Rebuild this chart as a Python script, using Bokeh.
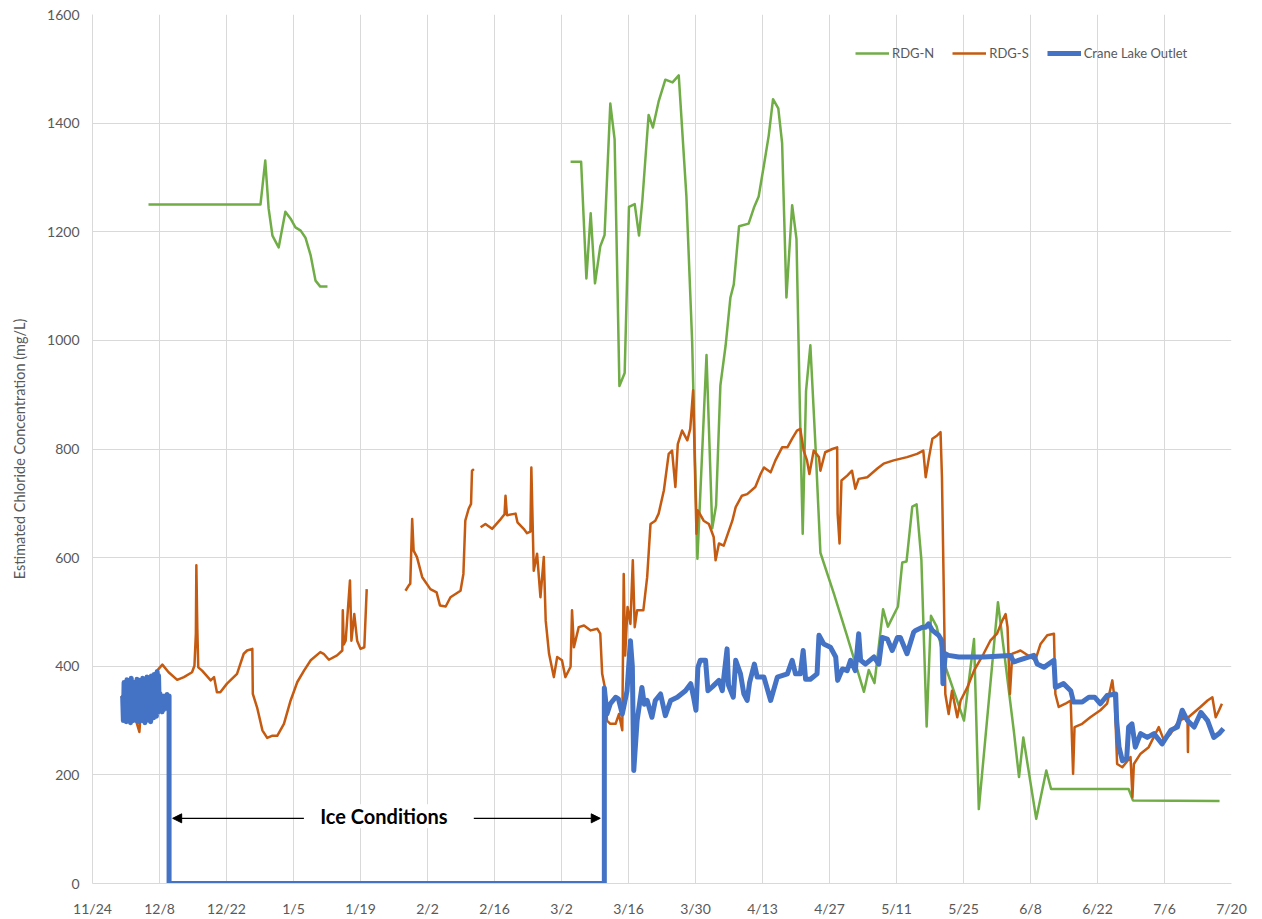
import numpy as np
from bokeh.plotting import figure
from bokeh.models import (FixedTicker, Legend, LegendItem, Arrow, NormalHead,
                          Label, Range1d)
from bokeh.embed import file_html
from bokeh.resources import INLINE

nan = np.nan

# x values are days since 11/24 (season 2020-11-24 .. 2021-07-20)
tick_days = list(range(0, 239, 14))
x_tick_labels = ["11/24", "12/8", "12/22", "1/5", "1/19", "2/2", "2/16", "3/2", "3/16",
                 "3/30", "4/13", "4/27", "5/11", "5/25", "6/8", "6/22", "7/6", "7/20"]
y_ticks = [0, 200, 400, 600, 800, 1000, 1200, 1400, 1600]

rdgn_day = [11.7, 35.1, 36.1, 36.8, 37.6, 38.9, 40.3, 41.4, 42.4, 43.5, 44.5, 45.6, 46.6, 47.6, 49.1,
            nan,
            99.9, 102.1, 103.2, 104.1, 105.0, 106.1, 107.0, 108.2, 109.1, 110.1, 111.2, 112.1,
            113.3, 114.2, 114.9, 116.2, 117.1, 118.3, 119.7, 121.2, 122.5, 124.1, 125.3, 126.4,
            128.3, 129.5, 130.3, 131.2, 132.3, 133.3, 134.0, 135.1, 137.1, 138.2, 139.2, 140.4,
            141.3, 142.2, 143.3, 144.1, 145.0, 146.2, 147.1, 147.8, 148.4, 149.1, 150.0, 151.1,
            152.1, 154.9, 157.7, 161.2, 162.2, 163.4, 165.2, 166.2, 168.3, 169.2, 170.1, 171.3,
            172.2, 173.2, 174.3, 175.2, 176.4, 178.2, 182.1, 184.2, 185.2, 189.2, 192.5, 193.6,
            194.5, 197.2, 199.3, 200.3, 216.5, 217.4, 235.5]
rdgn_val = [1250, 1250, 1331, 1243, 1193, 1171, 1237, 1224, 1208, 1202, 1189, 1156, 1110, 1099, 1099,
            nan,
            1329, 1329, 1114, 1234, 1105, 1173, 1194, 1436, 1370, 916, 940, 1246,
            1251, 1193, 1258, 1415, 1392, 1440, 1480, 1475, 1488, 1265, 998, 598,
            973, 654, 696, 917, 991, 1079, 1103, 1210, 1215, 1244, 1265, 1328,
            1377, 1444, 1427, 1363, 1079, 1249, 1187, 879, 644, 907, 991, 801,
            609, 534, 455, 353, 393, 369, 505, 473, 510, 591, 593, 694,
            698, 596, 289, 493, 473, 400, 300, 450, 137, 518, 282, 196,
            269, 119, 208, 174, 174, 153, 152]

rdgs_day = [5.9, 7.9, 9.8, 10.2, 12.1, 13.5, 14.6, 15.9, 17.7, 19.1, 20.8, 21.3, 21.6, 21.7, 21.9,
            22.1, 22.9, 24.7, 25.4, 26.0, 26.7, 28.1, 30.2, 31.6, 32.3, 33.4, 33.5, 34.4, 35.5,
            36.5, 37.5, 38.6, 40.0, 41.4, 42.8, 44.2, 45.6, 47.6, 48.3, 49.4, 51.1, 52.2, 52.3,
            52.5, 52.9, 53.8, 54.1, 54.7, 55.3, 56.0, 56.8, 57.3,
            nan,
            65.4, 66.1, 66.4, 66.8, 67.1, 67.8, 68.9, 70.6, 71.9, 72.6, 73.8, 74.8, 76.9, 77.5,
            77.9, 78.6, 79.1, 79.3, 79.7,
            nan,
            81.1, 82.1, 83.5, 85.3, 86.1, 86.3, 86.6, 88.4, 88.8, 90.1, 90.8, 91.5, 91.7, 92.2,
            92.9, 93.6, 94.3, 94.7, 95.4, 96.4, 97.1, 98.1, 98.8, 99.9, 100.2, 100.6, 101.6,
            102.7, 104.1, 105.5, 106.1, 106.5, 107.2, 107.5, 108.2, 109.3, 110.0, 110.7, 111.0,
            111.3, 111.8, 112.4, 112.9, 113.3, 113.8, 115.1, 115.9, 116.6, 117.6, 118.3, 119.4,
            120.4, 121.1, 121.8, 122.3, 123.2, 124.3, 124.9, 125.5, 126.2, 126.5, 127.7, 128.8,
            129.8, 130.2, 130.9, 131.9, 133.7, 134.4, 135.7, 136.8, 138.5, 139.6, 140.3, 141.7,
            142.7, 144.1, 145.2, 146.2, 147.2, 147.9, 148.6, 149.3, 149.8, 150.7, 151.8, 152.1,
            153.1, 154.6, 155.6, 155.7, 156.1, 156.5, 157.7, 158.7, 159.4, 160.1, 161.9, 164.0,
            165.3, 167.4, 170.2, 172.3, 173.6, 174.1, 174.8, 175.5, 176.5, 177.2, 177.5, 177.9,
            178.2, 178.9, 179.6, 180.7, 181.4, 182.8, 184.2, 186.2, 187.6, 189.0, 190.1, 190.8,
            191.2, 191.7, 192.2, 193.9, 196.0, 197.0, 198.1, 199.5, 200.9, 201.2, 201.9, 203.3,
            204.4, 204.9, 205.2, 206.8, 208.5, 210.6, 212.0, 213.1, 213.6, 214.1, 215.2, 216.9,
            217.3, 217.6, 219.0, 220.7, 222.8, 223.9, 225.3, 227.0, 228.8, 228.9, 229.0, 231.5,
            233.0, 234.0, 234.7, 235.4, 236.0]
rdgs_val = [345, 335, 279, 330, 340, 392, 403, 389, 375, 380, 389, 401, 460, 586, 470,
            398, 392, 374, 380, 352, 352, 368, 386, 423, 429, 432, 349, 324, 282,
            268, 272, 272, 294, 337, 371, 392, 411, 426, 423, 412, 420, 429, 503,
            440, 447, 558, 447, 496, 447, 432, 435, 542,
            nan,
            539, 549, 552, 671, 613, 601, 564, 542, 536, 512, 510, 527, 539, 570,
            668, 690, 699, 760, 763,
            nan,
            656, 662, 653, 671, 680, 714, 678, 681, 665, 653, 645, 648, 766, 576,
            607, 527, 601, 484, 423, 380, 417, 411, 380, 399, 503, 435, 472,
            475, 466, 469, 460, 386, 355, 300, 294, 294, 312, 282, 570,
            420, 509, 478, 595, 472, 503, 503, 564, 662, 668, 681, 724,
            791, 797, 730, 809, 834, 816, 837, 908, 644, 687, 668, 662,
            638, 595, 626, 622, 668, 693, 714, 717, 730, 754, 766, 757,
            779, 803, 803, 819, 834, 837, 797, 779, 754, 797, 785, 760,
            794, 800, 803, 681, 626, 742, 751, 760, 727, 745, 748, 764,
            773, 779, 785, 791, 797, 748, 785, 819, 825, 831, 748, 527,
            349, 312, 355, 306, 337, 361, 392, 423, 447, 460, 484, 496,
            472, 349, 423, 429, 417, 411, 441, 457, 460, 349, 325, 331,
            337, 202, 288, 294, 306, 319, 331, 374, 337, 220, 214, 233,
            159, 220, 239, 251, 288, 263, 276, 300, 306, 242, 306, 325,
            337, 343, 306, 319, 331]

crane_day = [6.30, 6.45, 6.60, 6.75, 6.90, 7.05, 7.20, 7.35, 7.50, 7.65, 7.80, 7.95, 8.10, 8.25,
             8.40, 8.55, 8.70, 8.85, 9.00, 9.15, 9.30, 9.45, 9.60, 9.75, 9.90, 10.05, 10.20, 10.35,
             10.50, 10.65, 10.80, 10.95, 11.10, 11.25, 11.40, 11.55, 11.70, 11.85, 12.00, 12.15,
             12.30, 12.45, 12.60, 12.75, 12.90, 13.05, 13.20, 13.35, 13.50, 13.65, 13.80, 13.95,
             14.10, 14.25, 14.40, 14.55, 14.70, 14.85, 15.00, 15.15, 15.30, 15.45, 15.60, 15.75,
             15.90, 16.00,
             16.00, 106.95,
             106.95, 107.5, 108.2, 109.3, 109.9,
             110.7, 111.7, 112.4, 112.8, 113.1, 113.8, 114.8, 115.3, 115.9, 116.9, 117.6, 118.7,
             119.7, 120.8, 122.2, 123.9, 125.0, 125.6, 126.1, 126.5, 127.0, 128.1, 128.6, 129.5,
             130.9, 131.6, 132.6, 132.9, 133.9, 134.4, 135.4, 136.1, 136.8, 137.3, 138.3, 138.9,
             140.3, 141.7, 143.1, 145.2, 146.2, 146.9, 147.9, 148.5, 149.0, 150.0, 151.4, 151.8,
             152.8, 154.2, 155.3, 155.7, 156.7, 157.7, 158.4, 159.4, 160.1, 160.5, 161.5, 163.3,
             164.3, 165.0, 166.1, 167.1, 168.2, 168.8, 170.2, 171.6, 172.0, 173.4, 174.1, 174.7,
             175.5, 176.8, 177.5, 177.7, 178.2, 178.9, 181.0, 186.2, 191.8, 192.5, 196.7, 197.4,
             198.8, 200.9, 201.2, 202.9, 204.4, 205.0, 206.8, 208.2, 209.4, 210.6, 212.0, 213.8,
             214.0, 214.5, 215.2, 216.1, 216.5, 217.2, 217.9, 219.0, 220.4, 221.8, 223.5, 225.3,
             226.7, 227.7, 228.8, 230.2, 231.6, 233.0, 234.3, 235.4, 236.3]
crane_val = [345, 300, 370, 305, 368, 298, 375, 310, 365, 302, 372, 296, 378, 305,
             360, 300, 370, 312, 365, 300, 376, 306, 362, 298, 374, 304, 368, 300,
             378, 308, 366, 296, 372, 302, 380, 306, 370, 300, 376, 298,
             382, 310, 374, 305, 385, 312, 378, 308, 390, 315, 383, 320,
             350, 318, 342, 316, 338, 320, 345, 322, 340, 325, 348, 330,
             345, 345,
             0, 0,
             360, 312, 331, 343, 340,
             312, 355, 447, 400, 208, 300, 361, 330, 337, 306, 337, 349,
             309, 337, 343, 355, 368, 343, 319, 398, 411, 411, 355, 362,
             374, 355, 432, 365, 343, 411, 386, 349, 337, 370, 404, 380,
             380, 337, 380, 386, 411, 386, 386, 429, 376, 376, 386, 457,
             441, 435, 417, 374, 395, 392, 411, 392, 460, 411, 404, 417,
             404, 453, 450, 429, 453, 453, 423, 463, 466, 472, 472, 478,
             466, 457, 447, 368, 423, 420, 417, 417, 420, 408, 420, 404,
             398, 411, 361, 368, 355, 334, 334, 343, 343, 331, 346, 349,
             300, 251, 226, 230, 288, 294, 251, 276, 269, 276, 257, 282,
             288, 319, 300, 288, 315, 300, 269, 276, 285]

FONT = "Lato"
GRAY = "#595959"
GRID = "#D9D9D9"

p = figure(width=1253, height=919, output_backend="svg", toolbar_location=None,
           x_range=Range1d(0, 238), y_range=Range1d(0, 1600),
           min_border_left=92, min_border_right=22, min_border_top=14, min_border_bottom=36)
p.outline_line_color = None
p.background_fill_color = "white"

p.xaxis.ticker = FixedTicker(ticks=tick_days)
p.xaxis.major_label_overrides = {d: lab for d, lab in zip(tick_days, x_tick_labels)}
p.yaxis.ticker = FixedTicker(ticks=y_ticks)
for ax in (p.xaxis[0], p.yaxis[0]):
    ax.axis_line_color = GRID
    ax.major_tick_line_color = None
    ax.minor_tick_line_color = None
    ax.major_label_text_font = FONT
    ax.major_label_text_font_size = "14px"
    ax.major_label_text_color = GRAY
p.xaxis.major_label_standoff = 10
p.yaxis.major_label_standoff = 7
p.yaxis.axis_label = "Estimated Chloride Concentration (mg/L)"
p.yaxis.axis_label_text_font = FONT
p.yaxis.axis_label_text_font_size = "14.5px"
p.yaxis.axis_label_text_font_style = "normal"
p.yaxis.axis_label_text_color = GRAY
p.yaxis.axis_label_standoff = 16
p.xgrid.grid_line_color = GRID
p.ygrid.grid_line_color = GRID

r_n = p.line(rdgn_day, rdgn_val, line_color="#70AD47", line_width=2.5, line_join="round")
r_s = p.line(rdgs_day, rdgs_val, line_color="#C55A11", line_width=2.5, line_join="round")
r_c = p.line(crane_day, crane_val, line_color="#4472C4", line_width=5, line_join="round")

legend = Legend(items=[LegendItem(label="RDG-N", renderers=[r_n]),
                       LegendItem(label="RDG-S", renderers=[r_s]),
                       LegendItem(label="Crane Lake Outlet", renderers=[r_c])],
                orientation="horizontal", location=(763, 822),
                label_text_font=FONT, label_text_font_size="13px", label_text_color=GRAY,
                glyph_width=34, glyph_height=16, label_standoff=3, spacing=18,
                padding=0, margin=0, border_line_color=None, background_fill_alpha=0)
p.add_layout(legend)

# "Ice Conditions" annotation between the ice-on and ice-off dates of the outlet record
i0 = crane_val.index(0)
ice_start = crane_day[i0]
ice_end = crane_day[i0 + 1]
ann_y = 120
mid = (ice_start + ice_end) / 2
p.add_layout(Arrow(end=NormalHead(size=9, fill_color="black", line_color="black"),
                   x_start=mid - 17.3, y_start=ann_y, x_end=ice_start + 0.75, y_end=ann_y,
                   line_color="black", line_width=1.3))
p.add_layout(Arrow(end=NormalHead(size=9, fill_color="black", line_color="black"),
                   x_start=mid + 18.2, y_start=ann_y, x_end=ice_end - 0.85, y_end=ann_y,
                   line_color="black", line_width=1.3))
p.add_layout(Label(x=mid - 0.6, y=ann_y + 4, text="Ice Conditions", text_font=FONT,
                   text_font_size="20px", text_font_style="bold", text_color="black",
                   text_align="center", text_baseline="middle",
                   background_fill_color="white"))

open("out.html", "w").write(file_html(p, INLINE))
